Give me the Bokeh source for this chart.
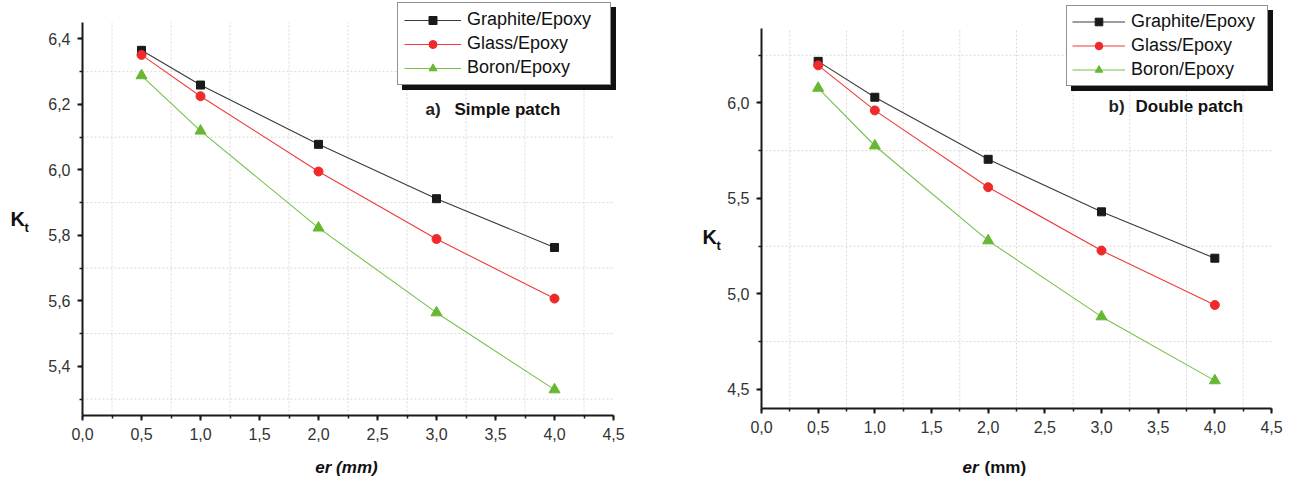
import numpy as np
from bokeh.plotting import figure
from bokeh.layouts import row
from bokeh.models import (Range1d, SingleIntervalTicker, CustomJSTickFormatter, Legend,
                          LegendItem, Label)
from bokeh.embed import file_html
from bokeh.resources import INLINE

# ---------------- data ----------------
er = [0.5, 1.0, 2.0, 3.0, 4.0]
series_names = ["Graphite/Epoxy", "Glass/Epoxy", "Boron/Epoxy"]

graphite_a = [6.365, 6.259, 6.078, 5.912, 5.763]
glass_a = [6.351, 6.225, 5.995, 5.789, 5.607]
boron_a = [6.288, 6.119, 5.823, 5.564, 5.329]

graphite_b = [6.218, 6.030, 5.705, 5.430, 5.187]
glass_b = [6.197, 5.961, 5.559, 5.227, 4.942]
boron_b = [6.078, 5.776, 5.279, 4.881, 4.546]

x_bounds = (0.0, 4.5)
y_bounds_a = (5.25, 6.45)
y_bounds_b = (4.40, 6.39)

FONT = "Liberation Sans"
colors = ["#1a1a1a", "#ee2a2a", "#66b833"]
line_colors = ["#3a3a3a", "#f03a3a", "#77c04a"]
markers = ["square", "circle", "triangle"]
msizes = [8, 9, 11]
H = 479


def make_panel(values, ybounds, yint, width, plot_px, leg_cfg,
               tag_pos, tag, title_pos, title, kt_pos, xlabel_parts):
    pl, pr, pt, pb = plot_px
    x0, x1 = x_bounds
    y0, y1 = ybounds
    sx = (pr - pl) / (x1 - x0)
    sy = (pb - pt) / (y1 - y0)
    xr = Range1d(x0 - pl / sx, x1 + (width - pr) / sx)
    yr = Range1d(y0 - (H - pb) / sy, y1 + pt / sy)

    p = figure(width=width, height=H, output_backend="svg", toolbar_location=None,
               x_range=xr, y_range=yr, min_border=0)
    p.outline_line_color = None
    p.background_fill_color = "white"
    p.border_fill_color = "white"
    p.xgrid.visible = False
    p.ygrid.visible = False

    # light dotted grid at the minor positions, limited to the axes box
    gx = np.arange(x0 + 0.25, x1, 0.5)
    gy = np.arange(np.ceil(y0 / (yint / 2)) * (yint / 2), y1, yint / 2)
    gy = [v for v in gy if abs(round(v / yint) * yint - v) > 1e-6 and y0 < v < y1]
    p.segment(x0=gx, y0=[y0] * len(gx), x1=gx, y1=[y1] * len(gx),
              line_color="#d8d8d8", line_dash="2 2", line_width=1)
    p.segment(x0=[x0] * len(gy), y0=gy, x1=[x1] * len(gy), y1=gy,
              line_color="#d8d8d8", line_dash="2 2", line_width=1)

    p.xaxis.ticker = SingleIntervalTicker(interval=0.5, num_minor_ticks=2)
    p.yaxis.ticker = SingleIntervalTicker(interval=yint, num_minor_ticks=2)
    p.xaxis.fixed_location = y0
    p.yaxis.fixed_location = x0
    p.xaxis.bounds = (x0, x1)
    p.yaxis.bounds = (y0, y1)
    fmt = "return tick.toFixed(1).replace('.', ',');"
    for ax in (p.xaxis[0], p.yaxis[0]):
        ax.formatter = CustomJSTickFormatter(code=fmt)
        ax.axis_line_width = 2
        ax.axis_line_color = "#1a1a1a"
        ax.major_tick_line_width = 2
        ax.major_tick_line_color = "#1a1a1a"
        ax.minor_tick_line_width = 1.5
        ax.minor_tick_line_color = "#1a1a1a"
        ax.major_tick_out = 5
        ax.major_tick_in = 0
        ax.minor_tick_out = 3
        ax.minor_tick_in = 0
        ax.major_label_text_font = FONT
        ax.major_label_text_font_size = "16px"
        ax.major_label_text_color = "#333333"
        ax.major_label_standoff = 7

    items = []
    for name, vals, c, lc, m, s in zip(series_names, values, colors, line_colors, markers, msizes):
        l = p.line(er, vals, line_color=lc, line_width=1.1)
        sc = p.scatter(er, vals, marker=m, size=s, fill_color=c, line_color=c)
        items.append(LegendItem(label=name, renderers=[l, sc]))

    # legend: a black copy offset by 5 px acts as the drop shadow
    bx, bbot, pad, gw, lw, gh = leg_cfg
    common = dict(padding=pad, margin=0, spacing=3, glyph_height=gh, label_height=gh,
                  glyph_width=gw, label_width=lw, label_standoff=6,
                  label_text_font=FONT, label_text_font_size="18px")
    shadow = Legend(items=[LegendItem(label=it.label, renderers=it.renderers) for it in items],
                    location=(bx + 5, H - bbot - 5), border_line_color="#111111",
                    background_fill_color="#111111", background_fill_alpha=1.0,
                    label_text_color="#111111", **common)
    p.add_layout(shadow)
    leg = Legend(items=items, location=(bx, H - bbot), border_line_color="#222222",
                 border_line_width=1.2, background_fill_color="white",
                 background_fill_alpha=1.0, label_text_color="#111111", **common)
    p.add_layout(leg)

    # panel tag text
    p.add_layout(Label(x=tag_pos[0], y=H - tag_pos[1], x_units="screen", y_units="screen",
                       text=tag, text_font=FONT, text_font_size="17px",
                       text_font_style="bold", text_color="#222222"))
    p.add_layout(Label(x=title_pos[0], y=H - title_pos[1], x_units="screen", y_units="screen",
                       text=title, text_font=FONT, text_font_size="17px",
                       text_font_style="bold", text_color="#111111"))

    # K_t label
    kx, ky = kt_pos
    p.add_layout(Label(x=kx, y=H - ky, x_units="screen", y_units="screen", text="K",
                       text_font=FONT, text_font_size="20px", text_font_style="bold",
                       text_baseline="middle", text_color="#111111"))
    p.add_layout(Label(x=kx + 14, y=H - ky - 9, x_units="screen", y_units="screen", text="t",
                       text_font=FONT, text_font_size="13px", text_font_style="bold",
                       text_baseline="middle", text_color="#111111"))

    # x axis label
    for (tx, ty, txt, style, align) in xlabel_parts:
        p.add_layout(Label(x=tx, y=H - ty, x_units="screen", y_units="screen", text=txt,
                           text_font=FONT, text_font_size="17px", text_font_style=style,
                           text_align=align, text_baseline="middle", text_color="#111111"))
    return p


# leg_cfg = (box left px, box bottom px, padding, glyph width, label width, row height)
pa = make_panel(
    [graphite_a, glass_a, boron_a], y_bounds_a, 0.2, 645, (82, 613, 22, 415),
    leg_cfg=(397, 85, 6, 57, 137, 20),
    tag_pos=(425, 118), tag="a)", title_pos=(454, 118), title="Simple patch",
    kt_pos=(10, 218),
    xlabel_parts=[(346, 467, "er (mm)", "bold italic", "center")])

pb = make_panel(
    [graphite_b, glass_b, boron_b], y_bounds_b, 0.5, 644, (116, 626, 28, 408),
    leg_cfg=(421, 86, 5, 53, 131, 19),
    tag_pos=(463, 115), tag="b)", title_pos=(490, 115), title="Double patch",
    kt_pos=(57, 236),
    xlabel_parts=[(317, 467, "er", "bold italic", "left"), (339, 467, "(mm)", "bold", "left")])

layout = row(pa, pb)
open("out.html", "w").write(file_html(layout, INLINE))
